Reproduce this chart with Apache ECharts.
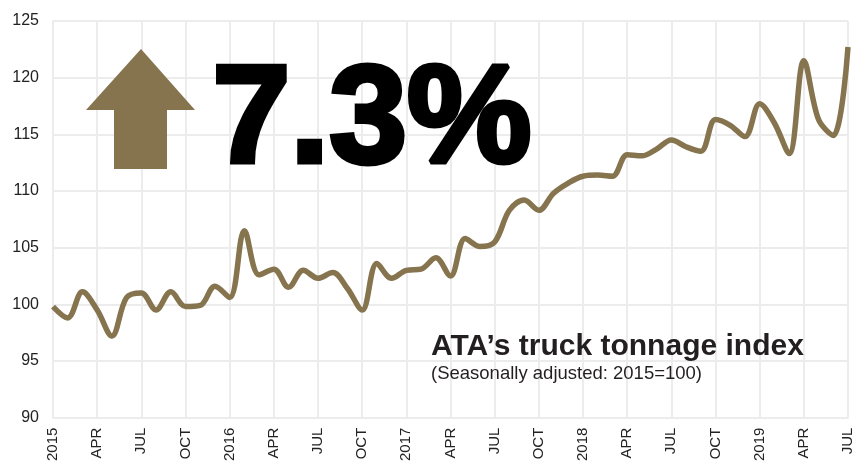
<!DOCTYPE html>
<html>
<head>
<meta charset="utf-8">
<style>
  html, body { margin: 0; padding: 0; background: #fff; }
  #chart { width: 858px; height: 464px; }
</style>
<script src="https://cdn.jsdelivr.net/npm/echarts@6/dist/echarts.min.js"></script>
</head>
<body>
<div id="chart"></div>
<script>
// months Jan 2015 .. Jul 2019 (year shown on January)
var months = [
  '2015', 'FEB', 'MAR', 'APR', 'MAY', 'JUN', 'JUL', 'AUG', 'SEP', 'OCT', 'NOV', 'DEC',
  '2016', 'FEB', 'MAR', 'APR', 'MAY', 'JUN', 'JUL', 'AUG', 'SEP', 'OCT', 'NOV', 'DEC',
  '2017', 'FEB', 'MAR', 'APR', 'MAY', 'JUN', 'JUL', 'AUG', 'SEP', 'OCT', 'NOV', 'DEC',
  '2018', 'FEB', 'MAR', 'APR', 'MAY', 'JUN', 'JUL', 'AUG', 'SEP', 'OCT', 'NOV', 'DEC',
  '2019', 'FEB', 'MAR', 'APR', 'MAY', 'JUN', 'JUL'
]
// truck tonnage index, seasonally adjusted (2015=100)
var tonnage = [
  99.8, 98.8, 101.1, 99.5, 97.2, 100.6, 101.0, 99.5, 101.1, 99.8, 99.9, 101.6,
  100.6, 106.5, 102.6, 103.1, 101.5, 103.0, 102.3, 102.8, 101.4, 99.5, 103.6, 102.3,
  103.0, 103.1, 104.1, 102.5, 105.8, 105.1, 105.5, 108.3, 109.2, 108.3, 109.8, 110.7,
  111.3, 111.4, 111.3, 113.2, 113.1, 113.7, 114.5, 113.9, 113.5, 116.3, 115.8, 114.8,
  117.7, 116.0, 113.3, 121.5, 116.3, 114.9, 122.7
]
var headline = '7.3%'
var titleText = 'ATA\u2019s truck tonnage index'
var subText = '(Seasonally adjusted: 2015=100)'

var gold = '#85744e'
var gridColor = '#ececec'
var font = '"Liberation Sans", Arial, Helvetica, sans-serif'

var chart = echarts.init(document.getElementById('chart'))
var option = {
  animation: false,
  backgroundColor: '#fff',
  grid: { left: 53, right: 10, top: 21, bottom: 46, containLabel: false },
  xAxis: {
    type: 'category',
    data: months,
    boundaryGap: false,
    axisLine: { show: true, lineStyle: { color: gridColor, width: 2 } },
    axisTick: { show: false },
    axisLabel: {
      interval: 2,
      rotate: 90,
      margin: 10,
      color: '#222',
      fontSize: 15,
      fontFamily: font
    },
    splitLine: { show: true, interval: 2, lineStyle: { color: gridColor, width: 2 } }
  },
  yAxis: {
    type: 'value',
    min: 90,
    max: 125,
    interval: 5,
    axisLine: { show: true, lineStyle: { color: gridColor, width: 2 } },
    axisTick: { show: false },
    axisLabel: { margin: 14, color: '#222', fontSize: 16, fontFamily: font },
    splitLine: { show: true, lineStyle: { color: gridColor, width: 2 } }
  },
  series: [{
    type: 'line',
    data: tonnage,
    smooth: 0.35,
    showSymbol: false,
    z: 3,
    lineStyle: { color: gold, width: 5.5 }
  }],
  graphic: [
    {
      type: 'polygon',
      z: 10,
      shape: {
        points: [[141, 49], [195, 110], [167, 110], [167, 169], [114, 169], [114, 110], [86, 110]]
      },
      style: { fill: gold }
    },
    {
      type: 'text',
      z: 10,
      left: 210,
      top: 51,
      scaleX: 1.0,
      style: {
        text: headline,
        fill: '#000',
        stroke: '#000',
        lineWidth: 5,
        font: 'bold 140px ' + font
      }
    },
    {
      type: 'text',
      z: 10,
      left: 431,
      top: 332,
      style: {
        text: titleText,
        fill: '#231f20',
        font: 'bold 30px ' + font
      }
    },
    {
      type: 'text',
      z: 10,
      left: 431,
      top: 364,
      style: {
        text: subText,
        fill: '#231f20',
        font: '18.5px ' + font
      }
    }
  ]
}
chart.setOption(option)
</script>
</body>
</html>
